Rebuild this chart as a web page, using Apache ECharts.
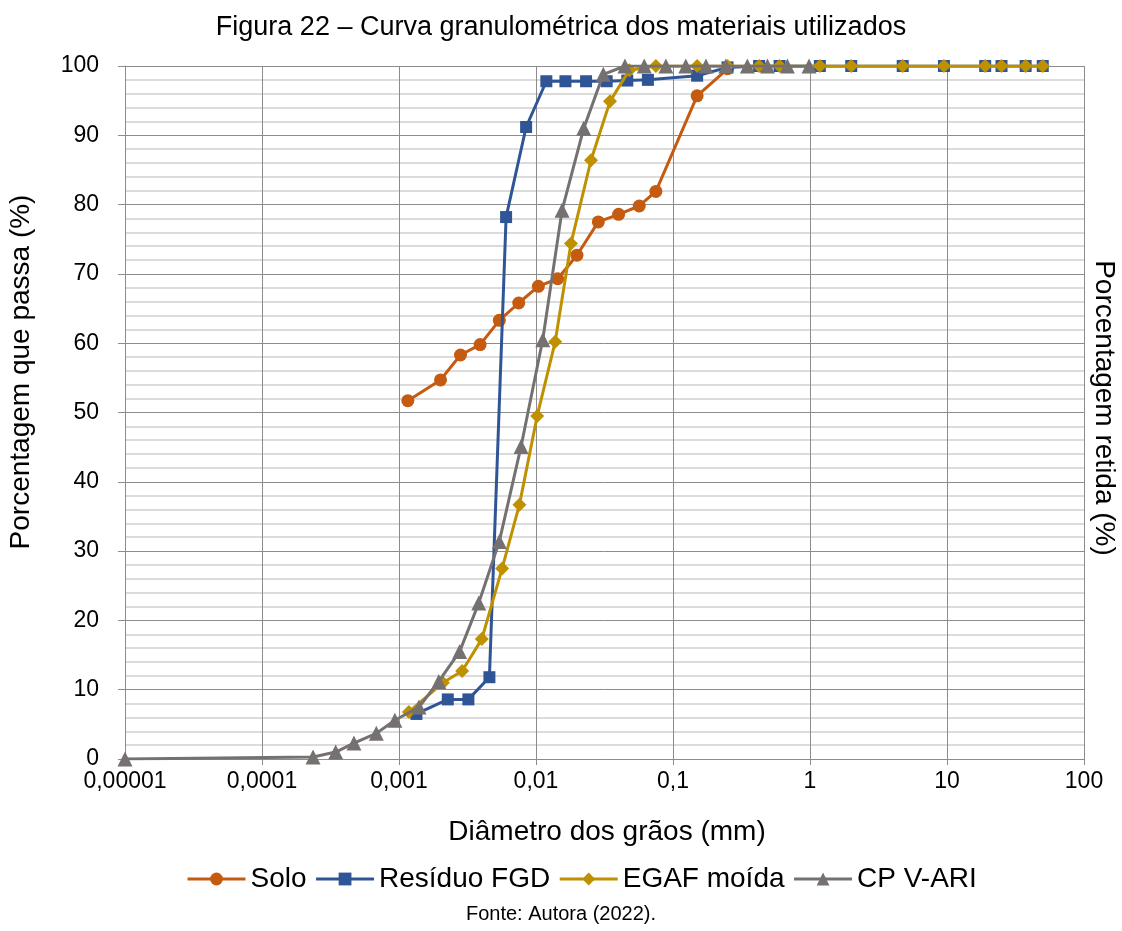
<!DOCTYPE html>
<html>
<head>
<meta charset="utf-8">
<script src="https://cdn.jsdelivr.net/npm/echarts@6/dist/echarts.min.js"></script>
<style>html,body{margin:0;padding:0;background:#fff;}#c{width:1122px;height:931px;}</style>
</head>
<body>
<div id="c"></div>
<script>
// ---- data ----
const xTickLabels = ['0,00001', '0,0001', '0,001', '0,01', '0,1', '1', '10', '100'];
const seriesNames = ['Solo', 'Resíduo FGD', 'EGAF moída', 'CP V-ARI'];

const soloD = [0.00116, 0.00201, 0.00281, 0.00391, 0.0054, 0.00748, 0.0104, 0.0144, 0.0199, 0.0285, 0.0401, 0.0567, 0.075, 0.15, 0.25];
const soloP = [51.7, 54.7, 58.3, 59.8, 63.3, 65.8, 68.2, 69.3, 72.7, 77.5, 78.6, 79.8, 81.9, 95.7, 99.6];

const fgdD = [0.00134, 0.00227, 0.00321, 0.00457, 0.00605, 0.00847, 0.0119, 0.0164, 0.0232, 0.0328, 0.0464, 0.0656, 0.15, 0.25, 0.425, 0.6, 1.18, 2.0, 4.75, 9.5, 19, 25, 37.5, 50];
const fgdP = [6.5, 8.6, 8.6, 11.8, 78.2, 91.2, 97.8, 97.8, 97.8, 97.8, 97.9, 98.0, 98.6, 99.8, 100, 100, 100, 100, 100, 100, 100, 100, 100, 100];

const egafD = [0.00118, 0.00209, 0.00289, 0.00402, 0.00566, 0.00757, 0.0102, 0.0138, 0.018, 0.0252, 0.0347, 0.048, 0.075, 0.15, 0.25, 0.425, 0.6, 1.18, 2.0, 4.75, 9.5, 19, 25, 37.5, 50];
const egafP = [6.8, 11.0, 12.7, 17.3, 27.5, 36.7, 49.5, 60.2, 74.4, 86.4, 94.9, 99.4, 100, 100, 100, 100, 100, 100, 100, 100, 100, 100, 100, 100, 100];

const cpD = [0.00001, 0.000236, 0.000345, 0.000469, 0.000683, 0.000933, 0.0014, 0.00195, 0.00277, 0.00382, 0.0054, 0.00778, 0.0112, 0.0155, 0.0223, 0.031, 0.0446, 0.0617, 0.0887, 0.124, 0.174, 0.243, 0.349, 0.489, 0.684, 0.984];
const cpP = [0, 0.3, 1.0, 2.3, 3.7, 5.6, 7.5, 11.2, 15.5, 22.5, 31.4, 45.1, 60.5, 79.2, 91.0, 98.8, 100, 100, 100, 100, 100, 100, 100, 100, 100, 100];

// ---- chart ----
const FONT = 'Liberation Sans, Arial, sans-serif';
const pairs = (d, p) => d.map((v, i) => [v, p[i]]);
const colors = ['#C55A11', '#2F5597', '#BF9000', '#767171'];
const symbols = ['circle', 'rect', 'diamond', 'triangle'];
const sizes = [13, 12, 14, 15];
const datasets = [pairs(soloD, soloP), pairs(fgdD, fgdP), pairs(egafD, egafP), pairs(cpD, cpP)];

const chart = echarts.init(document.getElementById('c'), null, {renderer: 'canvas'});
chart.setOption({
  animation: false,
  backgroundColor: '#fff',
  textStyle: {fontFamily: FONT, color: '#000'},
  grid: {left: 125, right: 38, top: 66, bottom: 172, containLabel: false},
  xAxis: {
    type: 'log', logBase: 10, min: 0.00001, max: 100, splitNumber: 7,
    axisLine: {show: true, lineStyle: {color: '#8C8C8C', width: 1}},
    axisTick: {show: true, length: 6, lineStyle: {color: '#8C8C8C'}},
    axisLabel: {fontSize: 23, color: '#000', fontFamily: FONT, margin: 11,
      formatter: v => xTickLabels[Math.round(Math.log10(v)) + 5]},
    splitLine: {show: true, lineStyle: {color: '#8C8C8C', width: 1}}
  },
  yAxis: {
    type: 'value', min: 0, max: 100, interval: 10,
    axisLine: {show: true, lineStyle: {color: '#8C8C8C', width: 1}},
    axisTick: {show: true, length: 7, lineStyle: {color: '#8C8C8C'}},
    axisLabel: {fontSize: 23, color: '#000', fontFamily: FONT, margin: 26},
    splitLine: {show: true, lineStyle: {color: '#8C8C8C', width: 1}},
    minorTick: {show: false, splitNumber: 5},
    minorSplitLine: {show: true, lineStyle: {color: '#D0D0D0', width: 1.5}}
  },
  legend: {
    data: seriesNames, bottom: 33, left: 181,
    itemWidth: 58, itemHeight: 16, itemGap: 8,
    lineStyle: {width: 3},
    textStyle: {fontSize: 28, color: '#000', fontFamily: FONT}
  },
  graphic: [
    {type: 'text', x: 561, y: 28, style: {text: 'Figura 22 – Curva granulométrica dos materiais utilizados', font: '27px ' + FONT, fill: '#000', align: 'center', verticalAlign: 'middle'}},
    {type: 'text', x: 607, y: 832, style: {text: 'Diâmetro dos grãos (mm)', font: '28px ' + FONT, fill: '#000', align: 'center', verticalAlign: 'middle'}},
    {type: 'text', x: 21, y: 372, rotation: Math.PI / 2, style: {text: 'Porcentagem que passa (%)', font: '28px ' + FONT, fill: '#000', align: 'center', verticalAlign: 'middle'}},
    {type: 'text', x: 1104, y: 408, rotation: -Math.PI / 2, style: {text: 'Porcentagem retida (%)', font: '28px ' + FONT, fill: '#000', align: 'center', verticalAlign: 'middle'}},
    {type: 'text', x: 561, y: 914, style: {text: 'Fonte: Autora (2022).', font: '20px ' + FONT, fill: '#000', align: 'center', verticalAlign: 'middle'}}
  ],
  series: seriesNames.map((name, i) => ({
    name: name, type: 'line', data: datasets[i],
    symbol: symbols[i], symbolSize: sizes[i], showSymbol: true,
    lineStyle: {color: colors[i], width: 3},
    itemStyle: {color: colors[i], borderWidth: 0},
    z: 2 + i
  }))
});
</script>
</body>
</html>
